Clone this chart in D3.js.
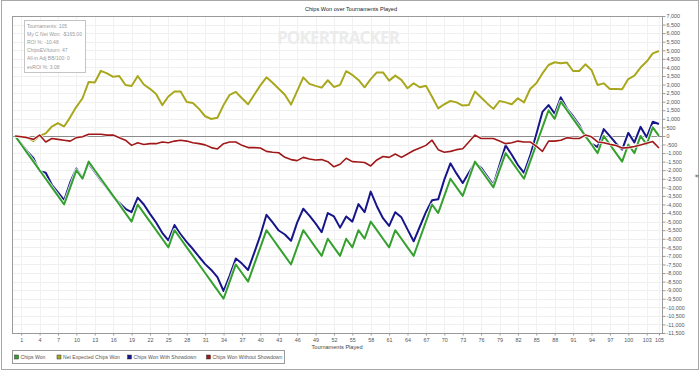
<!DOCTYPE html>
<html>
  <head>
    <style>
    body {
      font-family: "Liberation Sans", Arial, sans-serif;
      margin: 0;
      background: #fff;
    }
    text { fill: #444; }
    </style>
  </head>
  <body>
    <script src="https://d3js.org/d3.v7.min.js"></script>
    <script>

// tournaments 0..105, one value per tournament
var chipsWon = [0,-500,-1000,-1500,-2000,-2500,-3000,-3500,-4000,-3000,
  -2000,-2500,-1500,-2000,-2500,-3000,-3500,-4000,-4500,-5000,
  -4000,-4500,-5000,-5500,-6000,-6500,-5500,-6000,-6500,-7000,
  -7500,-8000,-8500,-9000,-9500,-8500,-7500,-8000,-8500,-7500,
  -6500,-5500,-6000,-6500,-7000,-7500,-6500,-5500,-6000,-6500,
  -7000,-6000,-6500,-7000,-6000,-6500,-5500,-6000,-5000,-5500,
  -6000,-6500,-5500,-6000,-6500,-7000,-6000,-5000,-4000,-4500,
  -3500,-2500,-3000,-3500,-2500,-1500,-2000,-2500,-3000,-2000,
  -1000,-1500,-2000,-2500,-1500,-500,500,1500,1000,2000,
  1500,1000,500,0,-500,-1000,0,-500,-1000,-1500,
  -500,-1000,0,-500,500,0];

var netExpected = [0,-50,-100,-300,0,150,550,750,550,1100,
  1700,2200,3150,3120,3800,3650,3450,3500,2970,2920,
  3500,3000,2750,2450,1800,2300,2600,2590,1980,1920,
  1580,1150,990,1060,1800,2400,2570,2200,1850,2400,
  2950,3420,3100,2750,2400,1830,2620,3420,3040,2920,
  2820,3250,2860,2980,3780,3560,3270,2840,3320,3710,
  3710,3230,3520,3270,2780,3070,2840,2930,2290,1610,
  1850,2040,1960,1770,1810,2590,2240,1900,1580,2040,
  1960,1850,2200,1960,2740,3070,3650,4140,4300,4240,
  4280,3790,3790,4180,3850,2970,3070,2740,2740,2720,
  3320,3520,3990,4340,4820,4960];

var withShowdown = [0,-450,-900,-1300,-2050,-2150,-2850,-3300,-3750,-2700,
  -1900,-2450,-1600,-2100,-2600,-3050,-3550,-3900,-4250,-4450,
  -3600,-4000,-4550,-5050,-5650,-6100,-5200,-5750,-6200,-6600,
  -7050,-7480,-7820,-8240,-9050,-8150,-7150,-7450,-7820,-6820,
  -5800,-4600,-5050,-5520,-5750,-6120,-5060,-4250,-4650,-5100,
  -5620,-4500,-4700,-5350,-4700,-5000,-3980,-4450,-3250,-4100,
  -4800,-5250,-4450,-4750,-5450,-6150,-5300,-4450,-3750,-3700,
  -2550,-1600,-2200,-2750,-2150,-1550,-1850,-2350,-2850,-1700,
  -550,-1100,-1700,-2150,-1150,100,1400,1800,1300,2250,
  1600,1150,650,-50,-450,-650,400,-10,-440,-800,
  180,-380,530,-70,830,700];

var withoutShowdown = [0,-50,-100,-200,50,-350,-150,-200,-250,-300,
  -100,-50,100,100,100,50,50,-100,-250,-550,
  -400,-500,-450,-450,-350,-400,-300,-250,-300,-400,
  -450,-520,-680,-760,-450,-350,-350,-550,-680,-680,
  -700,-900,-950,-980,-1250,-1380,-1440,-1250,-1350,-1400,
  -1380,-1500,-1800,-1650,-1300,-1500,-1520,-1550,-1750,-1400,
  -1200,-1250,-1050,-1250,-1050,-850,-700,-550,-250,-800,
  -950,-900,-800,-750,-350,50,-150,-150,-150,-300,
  -450,-400,-300,-350,-350,-600,-900,-300,-300,-250,
  -100,-150,-150,50,-50,-350,-400,-490,-560,-700,
  -680,-620,-530,-430,-330,-700];

var xTickLabels = [1,4,7,10,13,16,19,22,25,28,31,34,37,40,43,46,49,52,55,58,
  61,64,67,70,73,76,79,82,85,88,91,94,97,100,103,105];

var seriesNames = ["Chips Won", "Net Expected Chips Won", "Chips Won With Showdown", "Chips Won Without Showdown"];
var seriesColors = ["#34a02e", "#a9a71e", "#16168a", "#a01818"];

var statLines = ["Tournaments: 105", "My C Net Won: -$165.00", "ROI %: -10.48",
  "ChipsEV/tourn: 47", "All-in Adj BB/100: 0", "evROI %: 3.08"];


var width = 700, height = 371;
var plotLeft = 12, plotRight = 662, plotTop = 16, plotBottom = 333;

var svg = d3.select("body").append("svg")
    .attr("width", width)
    .attr("height", height);

svg.append("rect")
    .attr("x", 1.5).attr("y", 0.5)
    .attr("width", 697).attr("height", 369)
    .style("fill", "#fff")
    .style("stroke", "#a8a8a8");

var x = d3.scaleLinear().domain([-0.5, 105.5]).range([plotLeft, plotRight]);
var y = d3.scaleLinear().domain([-11500, 7000]).range([plotBottom, plotTop]);

var fmt = d3.formatLocale({decimal: ".", thousands: ",", grouping: [3], currency: ["$", ""], minus: "-"}).format(",");

// grid
var yTicks = d3.range(-11500, 7001, 500);
svg.append("g").selectAll("line")
    .data(yTicks)
  .enter().append("line")
    .attr("x1", plotLeft).attr("x2", plotRight)
    .attr("y1", d => Math.round(y(d)) + 0.5)
    .attr("y2", d => Math.round(y(d)) + 0.5)
    .style("stroke", "#efefef");

svg.append("g").selectAll("line")
    .data(xTickLabels)
  .enter().append("line")
    .attr("y1", plotTop).attr("y2", plotBottom)
    .attr("x1", d => Math.round(x(d)) + 0.5)
    .attr("x2", d => Math.round(x(d)) + 0.5)
    .style("stroke", "#f1f1f1");

// watermark
svg.append("text")
    .attr("x", 277).attr("y", 44)
    .attr("textLength", 123)
    .style("font-family", "'Open Sans', sans-serif")
    .style("font-weight", "bold")
    .style("font-size", "17px")
    .style("fill", "#ececec")
    .text("POKERTRACKER");

// zero line
svg.append("line")
    .attr("x1", plotLeft).attr("x2", plotRight)
    .attr("y1", Math.round(y(0)) + 0.5).attr("y2", Math.round(y(0)) + 0.5)
    .style("stroke", "#8c8c8c");

// plot frame
svg.append("rect")
    .attr("x", plotLeft + 0.5).attr("y", plotTop + 0.5)
    .attr("width", plotRight - plotLeft).attr("height", plotBottom - plotTop)
    .style("fill", "none")
    .style("stroke", "#9a9a9a");

// right axis
var yAxis = d3.axisRight(y).tickValues(yTicks).tickSize(3).tickPadding(1).tickFormat(fmt);
var ya = svg.append("g")
    .attr("transform", "translate(" + (plotRight + 0.5) + ",0)")
    .call(yAxis);
ya.select(".domain").remove();
ya.selectAll("line").style("stroke", "#999");
ya.selectAll("text").style("font-size", "5.4px").style("fill", "#555").attr("font-family", null);

svg.append("text")
    .attr("transform", "translate(695,176) rotate(90)")
    .attr("text-anchor", "middle")
    .style("font-size", "5.6px")
    .text("#");

// bottom axis
var xAxis = d3.axisBottom(x).tickValues(xTickLabels).tickSize(2).tickPadding(3).tickFormat(d => d);
var xa = svg.append("g")
    .attr("transform", "translate(0," + (plotBottom + 0.5) + ")")
    .call(xAxis);
xa.select(".domain").remove();
xa.selectAll("line").style("stroke", "#999");
xa.selectAll("text").style("font-size", "5.4px").style("fill", "#555").attr("font-family", null);

svg.append("text")
    .attr("x", (plotLeft + plotRight) / 2).attr("y", 348.5)
    .attr("text-anchor", "middle")
    .style("font-size", "5.6px")
    .text("Tournaments Played");

svg.append("text")
    .attr("x", 351).attr("y", 11)
    .attr("text-anchor", "middle")
    .style("font-size", "5.6px")
    .style("fill", "#222")
    .text("Chips Won over Tournaments Played");

// lines
var allSeries = [chipsWon, netExpected, withShowdown, withoutShowdown];
var drawOrder = [2, 0, 1, 3];
var widths = [2, 2, 2, 1.6];

var line = d3.line()
    .x((d, i) => x(i))
    .y(d => y(d));

var lines = svg.append("g");
drawOrder.forEach(function(k){
    lines.append("path")
        .attr("d", line(allSeries[k]))
        .style("fill", "none")
        .style("stroke", "#fff")
        .style("stroke-opacity", 0.85)
        .style("stroke-width", widths[k] + 1.6)
        .style("stroke-linejoin", "round");
    lines.append("path")
        .attr("class", "series")
        .attr("d", line(allSeries[k]))
        .style("fill", "none")
        .style("stroke", seriesColors[k])
        .style("stroke-width", widths[k])
        .style("stroke-linejoin", "round");
});

// stats box
svg.append("rect")
    .attr("x", 24.5).attr("y", 20.5)
    .attr("width", 61).attr("height", 52)
    .style("fill", "#fff")
    .style("stroke", "#c4c4c4");

svg.selectAll(".stat")
    .data(statLines)
  .enter().append("text")
    .attr("class", "stat")
    .attr("x", 27)
    .attr("y", (d, i) => 27.6 + i * 8.2)
    .style("font-size", "5px")
    .style("fill", "#9a9a9a")
    .text(d => d);

// legend
svg.append("rect")
    .attr("x", 12.5).attr("y", 350.5)
    .attr("width", 272).attr("height", 13)
    .style("fill", "#fff")
    .style("stroke", "#9a9a9a");

var legendX = [14.5, 57, 127.5, 206.5];
var lg = svg.selectAll(".legend")
    .data(seriesNames)
  .enter().append("g")
    .attr("class", "legend")
    .attr("transform", (d, i) => "translate(" + legendX[i] + ",357)");

lg.append("rect")
    .attr("x", 0).attr("y", -2)
    .attr("width", 4).attr("height", 4)
    .style("fill", (d, i) => seriesColors[i])
    .style("stroke", "#333")
    .style("stroke-width", 0.5);

lg.append("text")
    .attr("x", 6).attr("y", 2)
    .style("font-size", "5.1px")
    .style("fill", "#555")
    .text(d => d);

    </script>
  </body>
</html>
